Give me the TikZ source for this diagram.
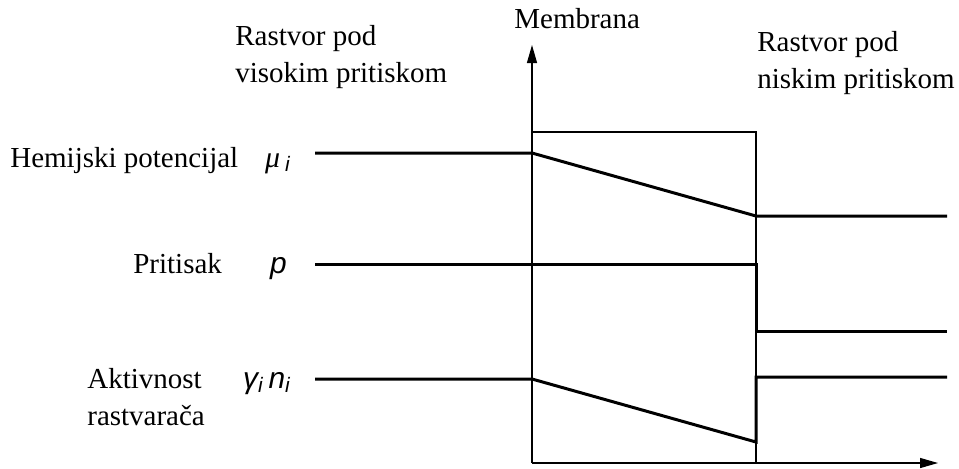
\documentclass[tikz,border=0pt]{standalone}
\usepackage{fontspec}
\setmainfont{Liberation Serif}
\newfontfamily\symfont{Liberation Sans}
\usetikzlibrary{arrows.meta}

\begin{document}
\begin{tikzpicture}[
  x=0.02cm, y=-0.02cm,
  lbl/.style={inner sep=0pt, font=\fontsize{16.5}{21}\selectfont, align=left, anchor=base west},
  sym/.style={inner sep=0pt, font=\fontsize{17}{21}\selectfont\symfont\itshape, anchor=base east},
  prof/.style={line width=1.7pt},
  frame/.style={line width=0.7pt},
  arr/.style={frame, -{Triangle[length=0.36cm, width=0.2cm]}}
]
  \useasboundingbox (0,0) rectangle (959,468);

  % axes and membrane
  \coordinate (o)    at (532,463);
  \coordinate (ytop) at (532,45);
  \coordinate (xend) at (938,463);
  \coordinate (mtl)  at (532,132);
  \coordinate (mtr)  at (756,132);
  \coordinate (mbr)  at (756,463);
  \draw[arr] (o) -- (ytop);
  \draw[arr] (o) -- (xend);
  \draw[frame] (mtl) -- (mtr) -- (mbr);

  % labels (base = baseline of the last line)
  \node[lbl] (high) at (235,82) {Rastvor pod\\visokim pritiskom};
  \node[lbl] (memb) at (514,28) {Membrana};
  \node[lbl] (low)  at (757,88) {Rastvor pod\\niskim pritiskom};

  \node[lbl] (chem)  at (10,167)  {Hemijski potencijal};
  \node[sym] (mu)    at (291,167) {{\rmfamily μ}\,\textsubscript{i}};
  \node[lbl] (press) at (133,273) {Pritisak};
  \node[sym] (p)     at (287,273) {p};
  \node[lbl] (act)   at (87,425)  {Aktivnost\\rastvarača};
  \node[sym] (gn)    at (291,388) {γ\textsubscript{i}\,n\textsubscript{i}};

  % chemical potential
  \draw[prof] (315,153) coordinate (mu0) -- (532,153) coordinate (mu1)
    -- (756,216) coordinate (mu2) -- (947,216) coordinate (mu3);
  % pressure
  \draw[prof] (315,264) coordinate (p0) -- (756,264) coordinate (p1)
    -- (756,331) coordinate (p2) -- (947,331) coordinate (p3);
  % solvent activity
  \draw[prof] (315,379) coordinate (a0) -- (532,379) coordinate (a1)
    -- (756,442) coordinate (a2) -- (756,377) coordinate (a3)
    -- (947,377) coordinate (a4);
\end{tikzpicture}
\end{document}
